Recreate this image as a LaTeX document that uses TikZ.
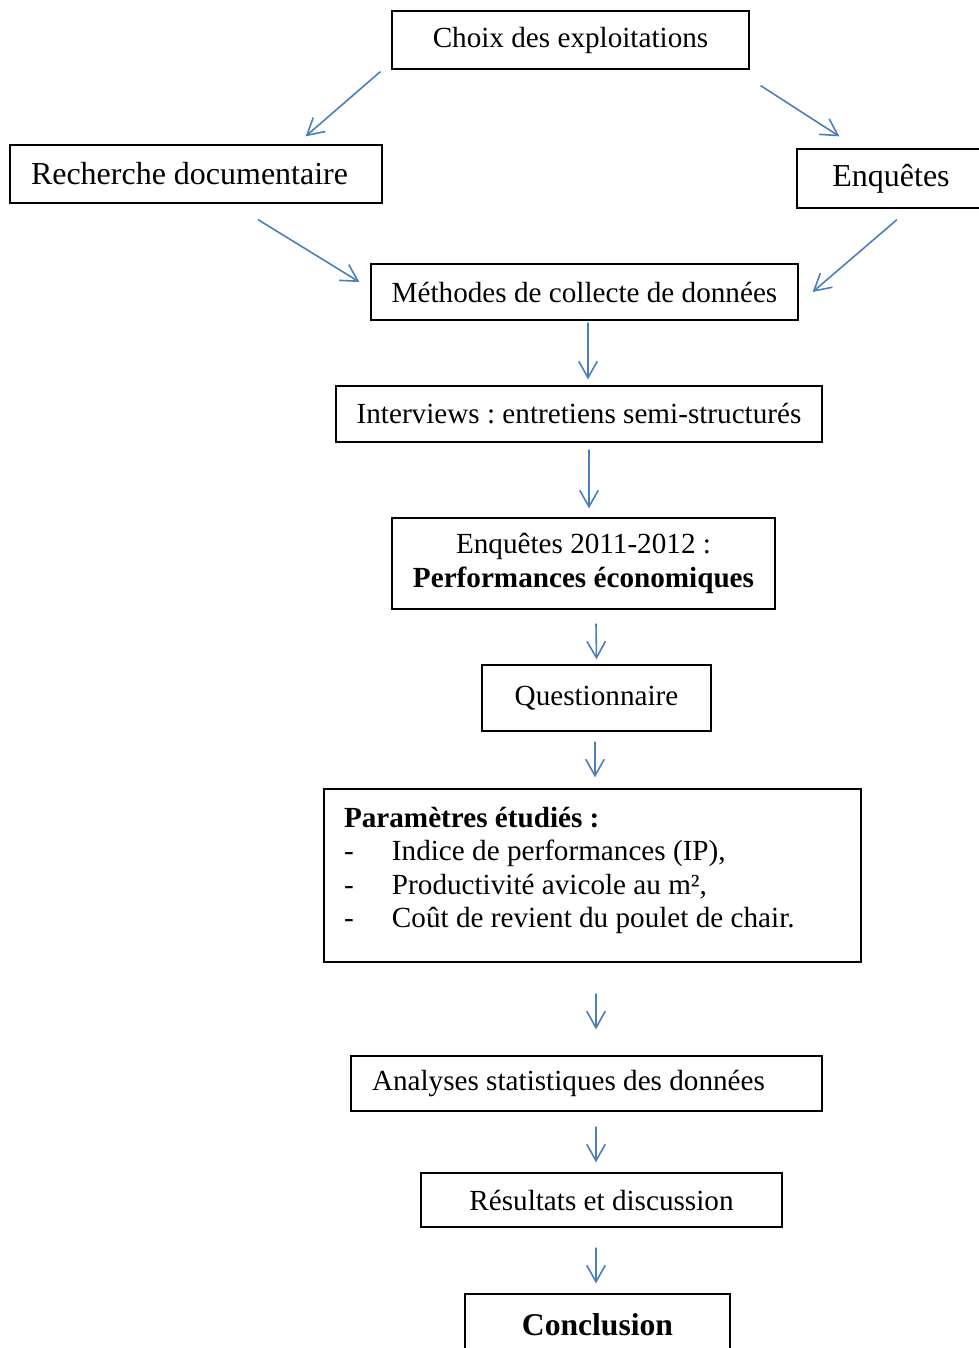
\documentclass[tikz,border=0pt]{standalone}
\usepackage{fontspec}
\setmainfont{Liberation Serif}
\usetikzlibrary{arrows.meta}
\frenchspacing

\definecolor{flowblue}{HTML}{4A7EBB}

\tikzset{
  box/.style={draw, line width=0.7pt, inner sep=0pt, font=\fontsize{16.6}{19.5}\selectfont},
  bigbox/.style={box, font=\fontsize{18.2}{21}\selectfont},
  flow/.style={draw=flowblue, line width=0.9pt, -{Straight Barb[length=0.33cm,width=0.37cm]}},
}

\begin{document}
\begin{tikzpicture}
  %%%%% START %%%%%
  \useasboundingbox (0,0) rectangle (19.58,-26.96);
  \clip (0,0) rectangle (19.58,-26.96);

  % boxes
  \node[box, minimum width=7.14cm, minimum height=1.16cm] (choix) at (11.41,-0.80) {Choix des exploitations};
  \node[bigbox, text width=6.60cm, inner xsep=0.42cm, align=flush left, minimum height=1.16cm] (recherche) at (3.92,-3.48) {Recherche documentaire};
  \node[bigbox, minimum width=3.76cm, minimum height=1.18cm] (enquetes) at (17.82,-3.57) {Enquêtes};
  \node[box, minimum width=8.54cm, minimum height=1.12cm] (methodes) at (11.69,-5.84) {Méthodes de collecte de données};
  \node[box, minimum width=9.72cm, minimum height=1.12cm] (interviews) at (11.58,-8.28) {Interviews : entretiens semi-structurés};
  \node[box, minimum width=7.66cm, minimum height=1.82cm, align=center] (enquetes2011) at (11.67,-11.27)
    {Enquêtes 2011-2012 :\\ \textbf{Performances économiques}};
  \node[box, minimum width=4.58cm, minimum height=1.32cm] (questionnaire) at (11.93,-13.96) {Questionnaire};
  \node[box, inner xsep=0.4cm, inner ysep=0.26cm] (parametres) at (11.85,-17.51)
    {\parbox[c][2.94cm][t]{9.94cm}{\fontsize{16.6}{19}\selectfont
      \vspace*{0.1cm}%
      \textbf{Paramètres étudiés :}\\
      \makebox[0.96cm][l]{-}Indice de performances (IP),\\
      \makebox[0.96cm][l]{-}Productivité avicole au m²,\\
      \makebox[0.96cm][l]{-}Coût de revient du poulet de chair.}};
  \node[box, text width=8.58cm, inner xsep=0.42cm, align=flush left, minimum height=1.10cm] (analyses) at (11.73,-21.67) {Analyses statistiques des données};
  \node[box, minimum width=7.22cm, minimum height=1.08cm] (resultats) at (12.03,-24.00) {Résultats et discussion};
  \node[box, minimum width=5.30cm, minimum height=1.24cm, font=\fontsize{18}{21}\selectfont\bfseries] (conclusion) at (11.95,-26.50) {Conclusion};

  % arrows
  \draw[flow] ([xshift=-0.22cm,yshift=-0.04cm]choix.south west) -- ([xshift=-1.54cm,yshift=0.16cm]recherche.north east);
  \draw[flow] ([xshift=0.22cm,yshift=-0.32cm]choix.south east) -- ([xshift=0.86cm,yshift=0.24cm]enquetes.north west);
  \draw[flow] ([xshift=1.24cm,yshift=-0.32cm]recherche.south) -- ([xshift=-0.22cm,yshift=0.20cm]methodes.west);
  \draw[flow] ([xshift=0.12cm,yshift=-0.22cm]enquetes.south) -- ([xshift=0.28cm]methodes.east);
  \draw[flow] ([xshift=0.07cm,yshift=-0.04cm]methodes.south) -- ([xshift=0.18cm,yshift=0.12cm]interviews.north);
  \draw[flow] ([xshift=0.20cm,yshift=-0.14cm]interviews.south) -- ([xshift=0.11cm,yshift=0.18cm]enquetes2011.north);
  \draw[flow] ([xshift=0.25cm,yshift=-0.28cm]enquetes2011.south) -- ([yshift=0.10cm]questionnaire.north);
  \draw[flow] ([xshift=-0.03cm,yshift=-0.20cm]questionnaire.south) -- ([xshift=0.05cm,yshift=0.22cm]parametres.north);
  \draw[flow] ([xshift=0.07cm,yshift=-0.62cm]parametres.south) -- ([xshift=0.19cm,yshift=0.52cm]analyses.north);
  \draw[flow] ([xshift=0.19cm,yshift=-0.30cm]analyses.south) -- ([xshift=-0.11cm,yshift=0.20cm]resultats.north);
  \draw[flow] ([xshift=-0.11cm,yshift=-0.40cm]resultats.south) -- ([xshift=-0.03cm,yshift=0.20cm]conclusion.north);

  %%%%% END %%%%%
\end{tikzpicture}
\end{document}
